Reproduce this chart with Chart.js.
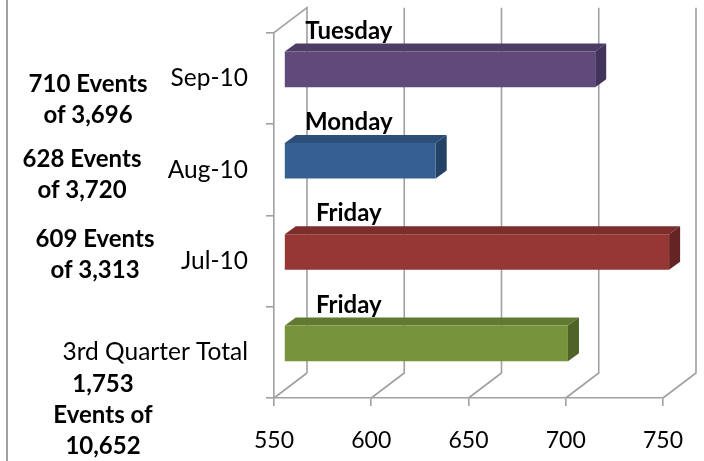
<!DOCTYPE html>
<html>
<head>
<meta charset="utf-8">
<script src="https://cdn.jsdelivr.net/npm/chart.js@4.4.1/dist/chart.umd.min.js"></script>
<style>
  html, body { margin: 0; padding: 0; background: #fff; }
  canvas { display: block; }
</style>
</head>
<body>
<canvas id="chart" width="704" height="461"></canvas>
<script>
// data
const categories = ['Sep-10', 'Aug-10', 'Jul-10', '3rd Quarter Total'];
const eventValues = [710, 628, 748, 696];
const dayLabels = ['Tuesday', 'Monday', 'Friday', 'Friday'];
const noteLines = [
  ['710 Events', 'of 3,696'],
  ['628 Events', 'of 3,720'],
  ['609 Events', 'of 3,313'],
  ['1,753', 'Events of', '10,652']
];
const xMin = 550;
const xMax = 750;
const xStep = 50;

const frontColors = ['#604a7b', '#376092', '#953735', '#77933c'];
const topColors = ['#4d3c66', '#2c4e78', '#7c2d2c', '#627a30'];
const sideColors = ['#42335a', '#244166', '#632423', '#4f6228'];

const FONT = 'Lato, "Open Sans", sans-serif';
const LINE = '#a0a0a0';

// 3d geometry: back wall offset and bar depth
const WALL_DX = 33, WALL_DY = 25;
const BAR_DX = 10, BAR_DY = 9;
const DEPTH_X = 11, DEPTH_Y = 8;

// where the free text boxes sit on the left (center x, first baseline)
const notePos = [[88, 92], [82, 167], [95, 247], [103, 392]];

const threeD = {
  id: 'threeD',
  beforeDatasetsDraw(chart) {
    const ctx = chart.ctx;
    const area = chart.chartArea;
    const xs = chart.scales.x;
    ctx.save();
    ctx.strokeStyle = LINE;
    ctx.lineWidth = 1.6;
    ctx.beginPath();
    // left wall
    ctx.moveTo(area.left, area.top);
    ctx.lineTo(area.left + WALL_DX, area.top - WALL_DY);
    ctx.lineTo(area.left + WALL_DX, area.bottom - WALL_DY);
    // back grid + floor diagonals
    for (let v = xMin; v <= xMax; v += xStep) {
      const px = xs.getPixelForValue(v);
      ctx.moveTo(px, area.bottom);
      ctx.lineTo(px + WALL_DX, area.bottom - WALL_DY);
      if (v > xMin) ctx.lineTo(px + WALL_DX, area.top - WALL_DY);
    }
    ctx.stroke();

    // depth faces of the bars
    const meta = chart.getDatasetMeta(0);
    meta.data.forEach((bar, i) => {
      const x0 = bar.base + BAR_DX, x1 = bar.x + BAR_DX;
      const y0 = bar.y - bar.height / 2 - BAR_DY, y1 = bar.y + bar.height / 2 - BAR_DY;
      ctx.fillStyle = topColors[i];
      ctx.beginPath();
      ctx.moveTo(x0, y0);
      ctx.lineTo(x1, y0);
      ctx.lineTo(x1 + DEPTH_X, y0 - DEPTH_Y);
      ctx.lineTo(x0 + DEPTH_X, y0 - DEPTH_Y);
      ctx.closePath();
      ctx.fill();
      ctx.fillStyle = sideColors[i];
      ctx.beginPath();
      ctx.moveTo(x1, y0);
      ctx.lineTo(x1 + DEPTH_X, y0 - DEPTH_Y);
      ctx.lineTo(x1 + DEPTH_X, y1 - DEPTH_Y);
      ctx.lineTo(x1, y1);
      ctx.closePath();
      ctx.fill();
    });
    // front faces are drawn by chart.js, shifted into the middle of the depth
    ctx.translate(BAR_DX, -BAR_DY);
  },
  afterDatasetsDraw(chart) {
    const ctx = chart.ctx;
    ctx.restore();
    ctx.save();
    ctx.fillStyle = '#000';
    ctx.font = 'bold 24px ' + FONT;
    ctx.textAlign = 'center';
    ctx.textBaseline = 'alphabetic';
    chart.getDatasetMeta(0).data.forEach((bar, i) => {
      const top = bar.y - bar.height / 2 - BAR_DY;
      ctx.fillText(dayLabels[i], bar.base + BAR_DX + 64, top - 13);
    });
    ctx.restore();
  },
  afterDraw(chart) {
    const ctx = chart.ctx;
    ctx.save();
    // outer frame on the left
    ctx.fillStyle = '#a0a0a0';
    ctx.fillRect(6, 0, 2, chart.height);
    // notes
    ctx.fillStyle = '#000';
    ctx.font = 'bold 24px ' + FONT;
    ctx.textAlign = 'center';
    noteLines.forEach((lines, i) => {
      lines.forEach((t, j) => {
        ctx.fillText(t, notePos[i][0], notePos[i][1] + j * 31);
      });
    });
    // title, cut off by the top edge
    ctx.textAlign = 'right';
    ctx.fillText('Busiest Day', 360, -4);
    ctx.restore();
  }
};

new Chart(document.getElementById('chart'), {
  type: 'bar',
  data: {
    labels: categories,
    datasets: [{
      data: eventValues,
      base: xMin,
      backgroundColor: frontColors,
      borderWidth: 0,
      barPercentage: 0.39,
      categoryPercentage: 1,
      clip: false
    }]
  },
  options: {
    indexAxis: 'y',
    responsive: false,
    animation: false,
    layout: { padding: { top: 30, right: 34, left: 0, bottom: 0 } },
    scales: {
      x: {
        min: xMin,
        max: xMax,
        afterFit: (scale) => { scale.height = 63; },
        ticks: {
          stepSize: xStep,
          color: '#000',
          padding: 21,
          font: { family: FONT, size: 23 }
        },
        grid: { drawOnChartArea: false, drawTicks: true, tickLength: 8, color: LINE, lineWidth: 1.6 },
        border: { display: true, color: LINE, width: 1.6 }
      },
      y: {
        afterFit: (scale) => { scale.width = 274; },
        ticks: {
          color: '#000',
          padding: 18,
          font: { family: FONT, size: 24.5 }
        },
        grid: { offset: true, drawOnChartArea: false, drawTicks: true, tickLength: 8, color: LINE, lineWidth: 1.6 },
        border: { display: true, color: LINE, width: 1.6 }
      }
    },
    plugins: {
      legend: { display: false },
      tooltip: { enabled: false }
    }
  },
  plugins: [threeD]
});
</script>
</body>
</html>
